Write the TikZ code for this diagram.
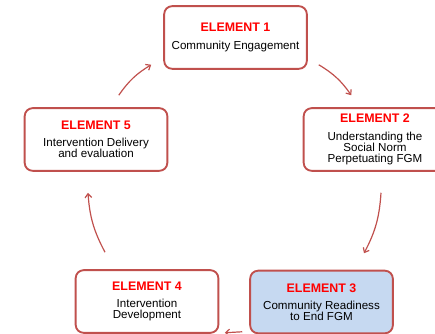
\documentclass[tikz,border=0pt]{standalone}
\usepackage{fontspec}
\setmainfont{Liberation Sans}
\usetikzlibrary{arrows.meta,positioning}
\definecolor{elemborder}{HTML}{C0504D}
\definecolor{elemfill}{HTML}{C6D9F1}
\definecolor{titlered}{HTML}{FF0000}
\newcommand{\elemtitle}[1]{{\fontsize{9.3}{10}\selectfont\bfseries\color{titlered}#1}}

\begin{document}
\begin{tikzpicture}[
    x=0.75pt, y=-0.75pt,
    element/.style={rectangle, rounded corners=6pt, draw=elemborder, line width=1.4pt, fill=white,
        minimum width=107pt, minimum height=47pt, align=center, inner sep=2pt,
        font=\fontsize{8.7}{8.4}\selectfont},
    current/.style={element, fill=elemfill},
    flow/.style={draw=elemborder, line width=0.9pt, -{Straight Barb[length=3pt,width=5pt]}}
]
\useasboundingbox (0,0) rectangle (435,334);

% the five elements
\node[element] (elem1) at (235.5,37.5) {\elemtitle{ELEMENT 1}\\[4.5pt] Community Engagement};
\node[element] (elem2) at (375,139.5)  {\elemtitle{ELEMENT 2}\\[4.5pt] Understanding the\\ Social Norm\\ Perpetuating FGM};
\node[current] (elem3) at (321.5,302)  {\elemtitle{ELEMENT 3}\\[4.5pt] Community Readiness\\ to End FGM};
\node[element] (elem4) at (147,301.5)  {\elemtitle{ELEMENT 4}\\[4.5pt] Intervention\\ Development};
\node[element] (elem5) at (96,139.5)   {\elemtitle{ELEMENT 5}\\[4.5pt] Intervention Delivery\\ and evaluation};

% cycle arrows
\draw[flow] ([shift={(11,-5)}]elem1.south east) to[bend left=12] ([shift={(48.5,-12)}]elem2.north west);
\draw[flow] ([shift={(6,21)}]elem2.south) to[bend left=12] ([shift={(42.5,-16.5)}]elem3.north);
\draw[flow] ([shift={(-7,-2.5)}]elem3.south west) -- ([shift={(5.5,-1)}]elem4.south east);
\draw[flow] ([shift={(-42,-17)}]elem4.north) to[bend left=12] ([shift={(-8,21)}]elem5.south);
\draw[flow] ([shift={(-49.5,-12)}]elem5.north east) to[bend left=12] ([shift={(-12,-5)}]elem1.south west);

\end{tikzpicture}
\end{document}
